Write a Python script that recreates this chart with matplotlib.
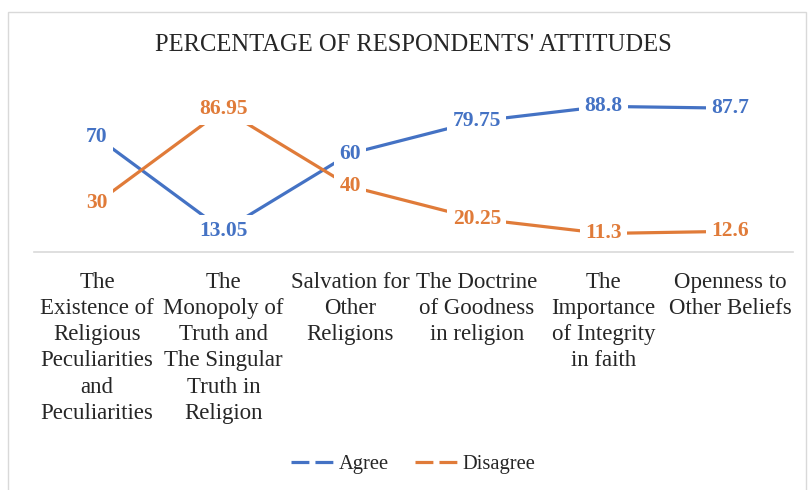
import matplotlib
matplotlib.use("Agg")
import matplotlib.pyplot as plt
from matplotlib.patches import Rectangle
from matplotlib.lines import Line2D

categories = [
    "The\nExistence of\nReligious\nPeculiarities\nand\nPeculiarities",
    "The\nMonopoly of\nTruth and\nThe Singular\nTruth in\nReligion",
    "Salvation for\nOther\nReligions",
    "The Doctrine\nof Goodness\nin religion",
    "The\nImportance\nof Integrity\nin faith",
    "Openness to\nOther Beliefs",
]
agree = [70, 13.05, 60, 79.75, 88.8, 87.7]
disagree = [30, 86.95, 40, 20.25, 11.3, 12.6]
agree_labels = ["70", "13.05", "60", "79.75", "88.8", "87.7"]
disagree_labels = ["30", "86.95", "40", "20.25", "11.3", "12.6"]
series_names = ["Agree", "Disagree"]
title = "PERCENTAGE OF RESPONDENTS' ATTITUDES"

BLUE = "#4472C4"
ORANGE = "#E07B39"
FONT = "Liberation Serif"

plt.rcParams['font.family'] = [FONT, 'DejaVu Serif']

W, H = 809, 490
fig = plt.figure(figsize=(W / 100, H / 100), dpi=100)

# chart border
fig.patches.append(Rectangle((8 / W, -0.05), (806 - 8) / W, 1.05 - 12 / H,
                             transform=fig.transFigure, fill=False,
                             edgecolor="#D9D9D9", linewidth=1.0))

left, right = 33.7, 793.3
top, bottom = 88.0, 252.0
ax = fig.add_axes([left / W, 1 - bottom / H, (right - left) / W, (bottom - top) / H])
ax.set_xlim(-0.5, len(categories) - 0.5)
ax.set_ylim(0, 100)

x = list(range(len(categories)))
ax.plot(x, agree, color=BLUE, linewidth=2.3, solid_capstyle='round', zorder=2)
ax.plot(x, disagree, color=ORANGE, linewidth=2.3, solid_capstyle='round', zorder=2)

for xi, v, lab in zip(x, agree, agree_labels):
    ax.text(xi, v, lab, ha='center', va='center', color=BLUE, fontsize=15.5,
            fontweight='bold', zorder=5,
            bbox=dict(boxstyle='square,pad=0.25', facecolor='white', edgecolor='none'))
for xi, v, lab in zip(x, disagree, disagree_labels):
    ax.text(xi, v, lab, ha='center', va='center', color=ORANGE, fontsize=15.5,
            fontweight='bold', zorder=5,
            bbox=dict(boxstyle='square,pad=0.25', facecolor='white', edgecolor='none'))

for s in ['left', 'right', 'top']:
    ax.spines[s].set_visible(False)
ax.spines['bottom'].set_color("#D9D9D9")
ax.spines['bottom'].set_linewidth(1.2)
ax.set_yticks([])
ax.set_xticks(x)
ax.set_xticklabels(categories, fontsize=16.5, color="#262626", linespacing=1.32,
                   multialignment='center')
ax.tick_params(axis='x', length=0, pad=14.5)
ax.patch.set_visible(False)

fig.text((left + right) / 2 / W, 1 - 45 / H, title, ha='center', va='center',
         fontsize=17.7, color="#262626")

handles = [Line2D([], [], color=BLUE, linewidth=2.3, linestyle=(0, (5.6, 1.9))),
           Line2D([], [], color=ORANGE, linewidth=2.3, linestyle=(0, (5.6, 1.9)))]
fig.legend(handles, series_names, loc='center', bbox_to_anchor=((left + right) / 2 / W, 1 - 464 / H),
           ncol=2, frameon=False, fontsize=14.8, handlelength=2.1, handletextpad=0.2,
           columnspacing=1.3, labelcolor="#262626")

fig.savefig("out.png", dpi=100, facecolor='white')
